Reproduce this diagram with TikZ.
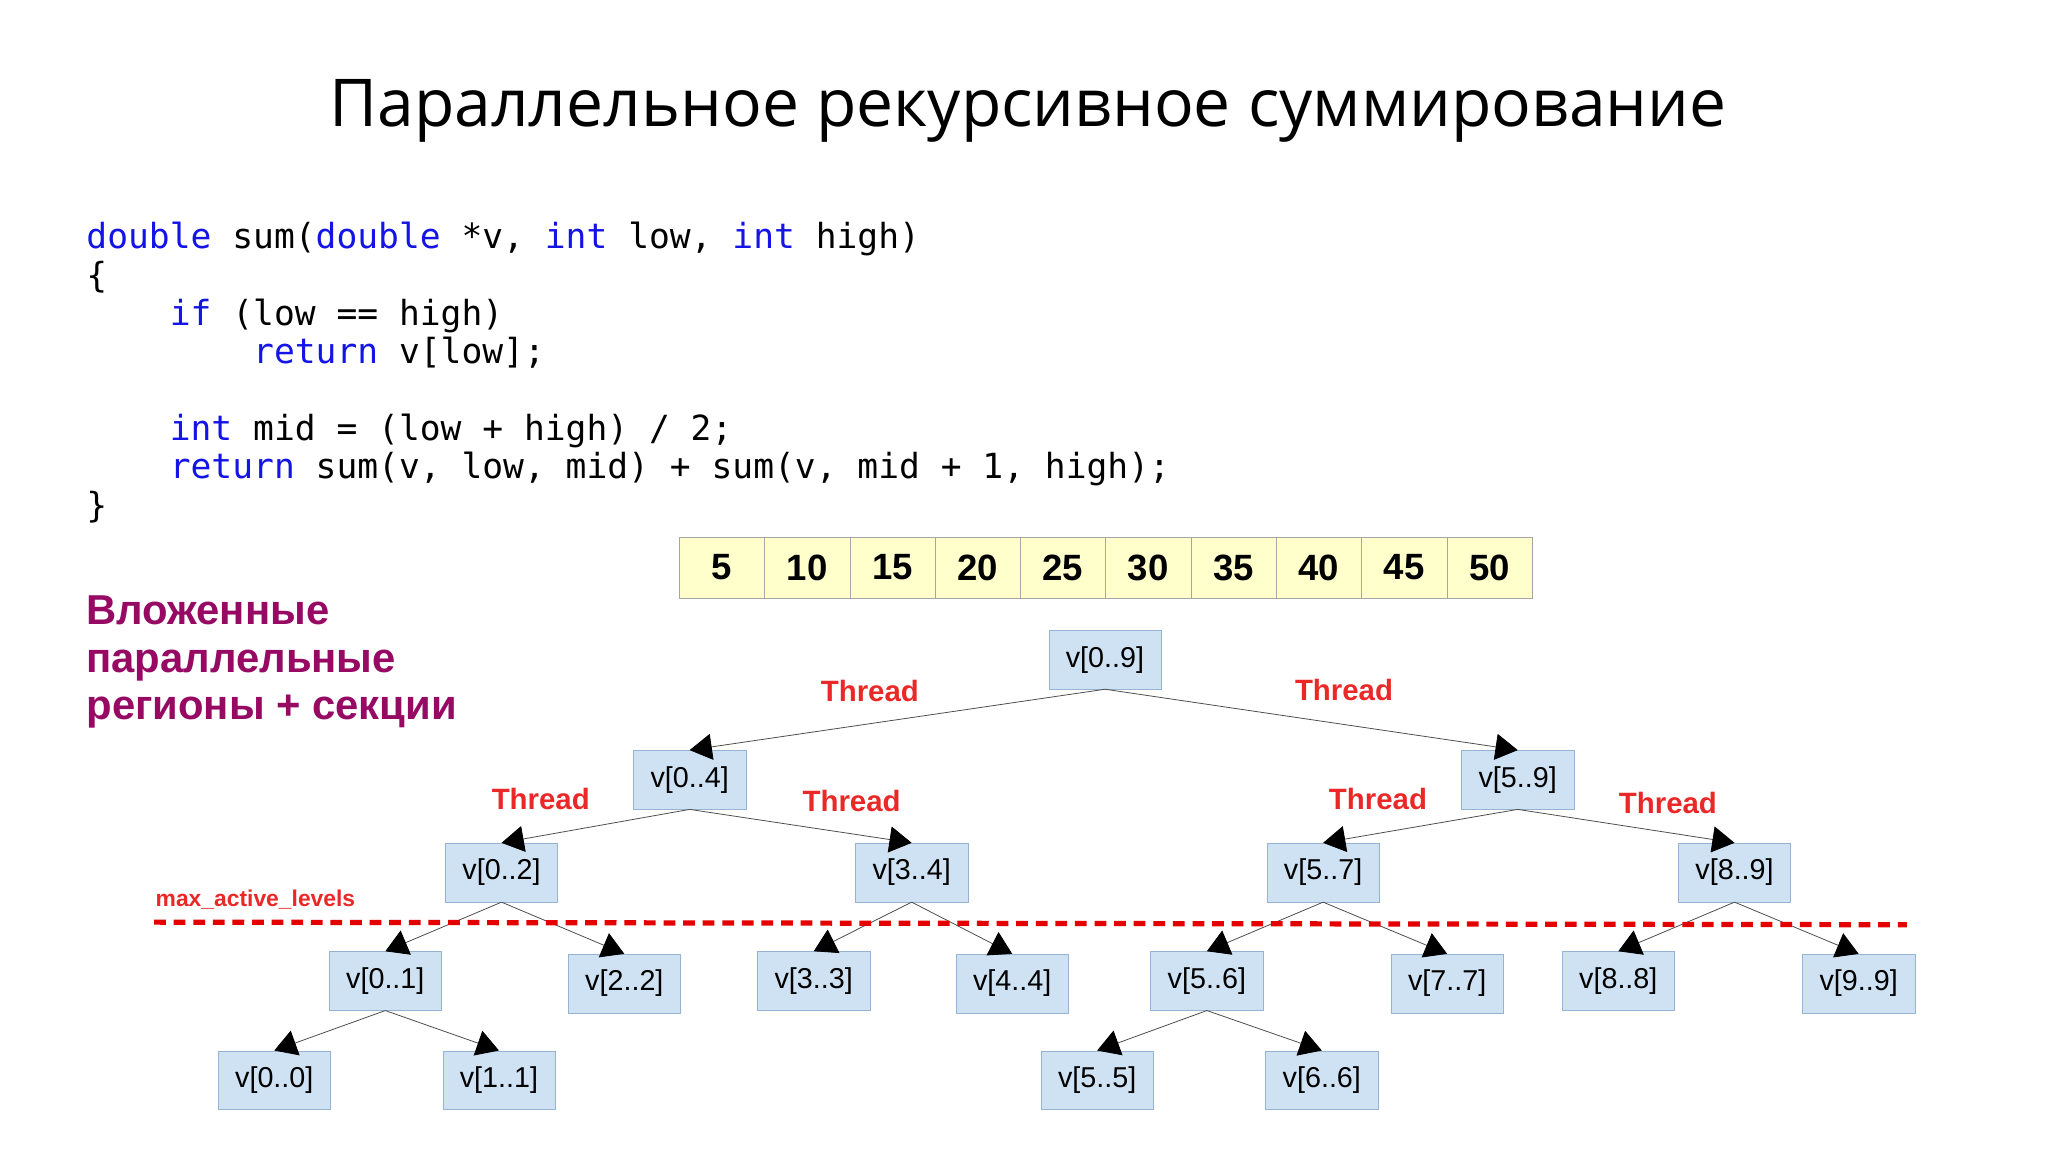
\documentclass[tikz,border=0pt]{standalone}
\usepackage{fontspec}
\setmainfont{Liberation Sans}
\newfontfamily\titlefont{Open Sans}
\newfontfamily\codefont{DejaVu Sans Mono}
\usetikzlibrary{arrows.meta}
\definecolor{kw}{RGB}{20,20,230}
\definecolor{nodefill}{RGB}{207,226,243}
\definecolor{nodeline}{RGB}{150,180,210}
\definecolor{cellfill}{RGB}{255,255,204}
\definecolor{thr}{RGB}{235,40,40}
\definecolor{purp}{RGB}{150,10,100}
\tikzset{
  vbox/.style={draw=nodeline,fill=nodefill,minimum width=86pt,minimum height=45pt,inner sep=0pt,font=\fontsize{22}{24}\selectfont},
  cell/.style={draw=gray!70,fill=cellfill,minimum width=65.3pt,minimum height=47pt,inner sep=0pt,font=\bfseries\fontsize{28}{30}\selectfont},
  edge/.style={draw=black!70,line width=0.6pt,-{Triangle[length=17pt,width=20pt,color=black]}},
  thread/.style={text=thr,font=\bfseries\fontsize{22.5}{24}\selectfont},
  codeline/.style={anchor=base west,inner sep=0pt,font=\codefont\fontsize{26.5}{28}\selectfont}
}
\begin{document}
\begin{tikzpicture}[x=1pt,y=-1pt]
\useasboundingbox[fill=white] (0,0) rectangle (1568,882);
\node[font=\titlefont\fontsize{50.5}{54}\selectfont] (title) at (787,85) {Параллельное рекурсивное суммирование};
% code
\node[codeline] (c1) at (66,190) {\textcolor{kw}{double} sum(\textcolor{kw}{double} *v, \textcolor{kw}{int} low, \textcolor{kw}{int} high)};
\node[codeline] (c2) at (66,220) {\{};
\node[codeline] (c3) at (66,249) {\phantom{xxxx}\textcolor{kw}{if} (low == high)};
\node[codeline] (c4) at (66,278) {\phantom{xxxxxxxx}\textcolor{kw}{return} v[low];};
\node[codeline] (c5) at (66,337) {\phantom{xxxx}\textcolor{kw}{int} mid = (low + high) / 2;};
\node[codeline] (c6) at (66,366) {\phantom{xxxx}\textcolor{kw}{return} sum(v, low, mid) + sum(v, mid + 1, high);};
\node[codeline] (c7) at (66,396) {\}};
% array
\foreach \v [count=\i] in {5,10,15,20,25,30,35,40,45,50}
  \node[cell] (a\i) at (520+65.3*\i-32.65,434.5) {\v};
% purple text
\node[anchor=north west,align=left,text=purp,font=\bfseries\fontsize{32}{36.5}\selectfont,inner sep=0pt] (nest) at (66,456) {Вложенные\\параллельные\\регионы + секции};
% tree nodes
\node[vbox] (v09) at (846,505) {v[0..9]};
\node[vbox] (v04) at (528,597) {v[0..4]};
\node[vbox] (v59) at (1162,597) {v[5..9]};
\node[vbox] (v02) at (384,668) {v[0..2]};
\node[vbox] (v34) at (698,668) {v[3..4]};
\node[vbox] (v57) at (1013,668) {v[5..7]};
\node[vbox] (v89) at (1328,668) {v[8..9]};
\node[vbox] (v01) at (295,751) {v[0..1]};
\node[vbox] (v22) at (478,753) {v[2..2]};
\node[vbox] (v33) at (623,751) {v[3..3]};
\node[vbox] (v44) at (775,753) {v[4..4]};
\node[vbox] (v56) at (924,751) {v[5..6]};
\node[vbox] (v77) at (1108,753) {v[7..7]};
\node[vbox] (v88) at (1239,751) {v[8..8]};
\node[vbox] (v99) at (1423,753) {v[9..9]};
\node[vbox] (v00) at (210,827) {v[0..0]};
\node[vbox] (v11) at (382,827) {v[1..1]};
\node[vbox] (v55) at (840,827) {v[5..5]};
\node[vbox] (v66) at (1012,827) {v[6..6]};
% edges
\foreach \p/\c in {v09/v04,v09/v59,v04/v02,v04/v34,v59/v57,v59/v89,v02/v01,v02/v22,v34/v33,v34/v44,v57/v56,v57/v77,v89/v88,v89/v99,v01/v00,v01/v11,v56/v55,v56/v66}
  \draw[edge] (\p.south) -- (\c.north);
% thread labels
\node[thread] (t1) at (666,529) {Thread};
\node[thread] (t2) at (1029,528) {Thread};
\node[thread] (t3) at (414,612) {Thread};
\node[thread] (t4) at (652,613) {Thread};
\node[thread] (t5) at (1055,612) {Thread};
\node[thread] (t6) at (1277,615) {Thread};
% max active levels
\coordinate (dl) at (118,706);
\coordinate (dr) at (1460,708);
\draw[red!90!black,line width=4pt,dash pattern=on 9pt off 6pt] (dl) -- (dr);
\node[anchor=west,inner sep=0pt,text=thr,font=\bfseries\fontsize{17.5}{19}\selectfont] (mal) at (119,689) {max\_active\_levels};
\end{tikzpicture}
\end{document}
